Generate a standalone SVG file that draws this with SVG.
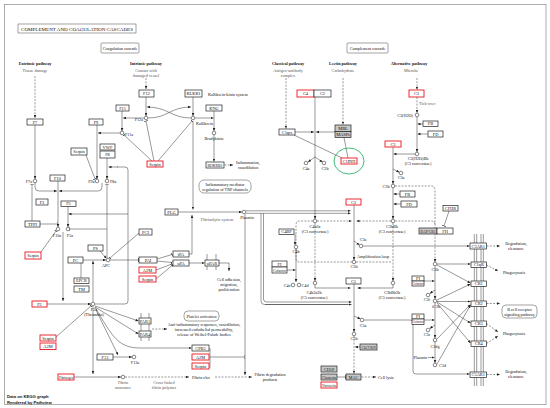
<svg xmlns="http://www.w3.org/2000/svg" width="550" height="408" viewBox="0 0 550 408">
<style>
text{font-family:"Liberation Serif",serif;font-size:4.2px;fill:#111;text-anchor:middle}
.s{font-family:"Liberation Sans",sans-serif;font-weight:bold;text-anchor:start}
.b{font-weight:bold}
.st{text-anchor:start}
.en{text-anchor:end}
.gr{fill:#555}
.n rect{fill:#fff;stroke:#222;stroke-width:0.7}
.n text{font-size:4.4px}
.r rect{stroke:#e8161d;stroke-width:0.9}
.g rect{fill:#c8c8c8}
.m circle{fill:#fff;stroke:#222;stroke-width:0.55}
.c{fill:none;stroke:#333;stroke-width:0.5}
.d{stroke-dasharray:2 1.3}
.ar{marker-end:url(#a)}
.ib{marker-end:url(#b)}
.lab rect{fill:#fff;stroke:#666;stroke-width:0.6}
.mem{stroke:#333;stroke-width:0.5}
</style>
<defs>
<marker id="a" viewBox="0 0 6 6" refX="6" refY="3" markerWidth="3" markerHeight="3" markerUnits="userSpaceOnUse" orient="auto"><path d="M0,0.4L6,3L0,5.6z" fill="#222"/></marker>
<marker id="b" viewBox="0 0 2 8" refX="1" refY="4" markerWidth="1" markerHeight="4" markerUnits="userSpaceOnUse" orient="auto"><path d="M1,0V8" stroke="#222" stroke-width="1.4"/></marker>
</defs>
<rect x="0" y="0" width="550" height="408" fill="#fff"/>
<rect x="4.5" y="4.5" width="541.5" height="400" fill="#fff" stroke="#999" stroke-width="0.8"/>

<g id="title" class="lab"><rect x="18" y="24" width="118" height="9"/><text x="77" y="30.5" font-size="5" textLength="112" lengthAdjust="spacingAndGlyphs">COMPLEMENT AND COAGULATION CASCADES</text></g>
<g id="coag-label" class="lab"><rect x="101" y="43" width="38" height="10" rx="1"/><text x="120" y="49.5">Coagulation cascade</text></g>
<g id="comp-label" class="lab"><rect x="347" y="43" width="41" height="10" rx="1"/><text x="367.5" y="49.5">Complement cascade</text></g>

<g id="pathway-labels">
<text x="35" y="65" class="b">Extrinsic pathway</text><text x="35" y="71.5" class="gr">Tissue damage</text>
<text x="146" y="65" class="b">Intrinsic pathway</text><text x="146" y="71.5" class="gr">Contact with</text><text x="146" y="76.5" class="gr">damaged vessel</text>
<text x="288" y="65" class="b">Classical pathway</text><text x="288" y="71.5" class="gr">Antigen-antibody</text><text x="288" y="76.5" class="gr">complex</text>
<text x="343" y="65" class="b">Lectin pathway</text><text x="343" y="71.5" class="gr">Carbohydrate</text>
<text x="409" y="65" class="b">Alternative pathway</text><text x="411" y="71.5" class="gr">Microbe</text>
</g>

<g id="connectors">
<path class="c d ar" d="M35,76V118"/>
<path class="c ar" d="M35,125V179"/>
<path class="c d ar" d="M146,78V89"/>
<path class="c ar" d="M146,97V116"/>
<path class="c ar" d="M193,97V116"/>
<path class="c ar" d="M148,118C168,118 170,107 191,107"/>
<path class="c ar" d="M191,118C171,118 168,107 147,107"/>
<path class="c ar" d="M144,118H123"/>
<path class="c ar" d="M122,111V131"/>
<path class="c ar" d="M120,133H98"/>
<path class="c ar" d="M97,125V179"/>
<path class="c ar" d="M107,158V179"/>
<path class="c ib" d="M86,155L95,179"/>
<path class="c ib" d="M152,161L124,135"/>
<path class="c ib" d="M154,161L146,121"/>
<path class="c ib" d="M158,161L192,121"/>
<path class="c ar" d="M35,183V187Q35,191 39,191H57"/>
<path class="c ar" d="M102,183V187Q102,191 98,191H59"/>
<path class="c ar" d="M58,181V227"/>
<path class="c ar" d="M68,206V227"/>
<path class="c" d="M95,304H125Q128,304 128,301V170Q128,167 125,167H117"/>
<path class="c ar" d="M118,167H108.5"/>
<path class="c ar" d="M128,214H68.5"/>
<path class="c ib" d="M32,221V184"/>
<path class="c ib" d="M40,224H57"/>
<path class="c ib" d="M41,252L56,231"/>
<path class="c ar" d="M63,232V301"/>
<path class="c ar" d="M47,304H91"/>
<path class="c ar" d="M83,260H106"/>
<path class="c ar" d="M100,251L106.5,258.5"/>
<path class="c ar" d="M93,302V261"/>
<path class="c ib" d="M107,258V184"/>
<path class="c ib" d="M107,229H69"/>
<path class="c ib" d="M139,233L110,258"/>
<path class="c ib" d="M110,260H138.5"/>
<path class="c" d="M81,263V278"/>
<path class="c ib" d="M56,337L91,306"/>
<path class="c ar" d="M95,306L138.5,321"/>
<path class="c ar" d="M95,307L138.5,334"/>
<path class="c ar" d="M95,307C112,336 118,348 140,348H191.5"/>
<path class="c ar" d="M93,306V374"/>
<path class="c ar" d="M96,310L118,355"/>
<path class="c ar" d="M113,357H132"/>
<path class="c ar" d="M74,377H121"/>
<path class="c d ar" d="M125,377H189"/>
<path class="c d ar" d="M215,377H252"/>
<path class="c ar" d="M245,214V375"/>
<path class="c" d="M210,348V368"/>
<path class="c ib" d="M210,357H244"/>
<path class="c d ar" d="M152,329H167"/>
<path class="c ar" d="M189,263H204.5"/>
<path class="c ar" d="M219,263H229V271"/>
<path class="c ib" d="M157,259L172,254.5"/>
<path class="c ib" d="M157,261L172,262.5"/>
<path class="c ib" d="M156,270L172,264"/>
<path class="c ib" d="M156,279L172,265.5"/>
<path class="c ar" d="M189,254H192V215"/>
<path class="c ar" d="M193,121V209.5"/>
<path class="c ar" d="M178,212H242"/>
<path class="c ar" d="M195,118H213.5"/>
<path class="c ar" d="M214,111V131"/>
<path class="c ar" d="M214,135V161.5"/>
<path class="c d ar" d="M224.5,165H233"/>

<path class="c d ar" d="M286,78V128.5"/>
<path class="c d ar" d="M343,78V124.5"/>
<path class="c ar" d="M315,97V219"/>
<path class="c ar" d="M295,132H314"/>
<path class="c ar" d="M335,132H316"/>
<path class="c ar" d="M315,157L308,162"/>
<path class="c ar" d="M315,157L322.5,162"/>
<path class="c" d="M294,135L342,158"/>
<path class="c" d="M344,137.5L348,158"/>
<path class="c ar" d="M354,205V260"/>
<path class="c ar" d="M246,210.8H350.5"/>
<path class="c ar" d="M246,213.3H350.5"/>
<path class="c" d="M261,213.3V301Q261,304.5 264.5,304.5H348"/>
<path class="c ar" d="M263.5,213.3V299Q263.5,302 266.5,302H351.5"/>
<path class="c ar" d="M265,304.5H351.5"/>
<path class="c d ar" d="M317,221H351.5"/>
<path class="c d ar" d="M391,221H356.5"/>
<path class="c d" d="M313,221H300Q296,221 296,225V258Q296,262 300,262H352"/>
<path class="c d" d="M356,262H392"/>
<path class="c d ar" d="M315,223V281"/>
<path class="c d ar" d="M393,223V281"/>
<path class="c d ar" d="M395,186H431Q435,186 435,190V262"/>
<path class="c d" d="M395,221H431Q435,221 435,225"/>
<path class="c d ar" d="M417,78V89.5"/>
<path class="c d ar" d="M417,97V113"/>
<path class="c ar" d="M417,117V152"/>
<path class="c ar" d="M423,124H417.5"/>
<path class="c ar" d="M428,134H417.5"/>
<path class="c ar" d="M415,154H393.5"/>
<path class="c ar" d="M393,147V184"/>
<path class="c ar" d="M393,169L399.3,172.3"/>
<path class="c ar" d="M393,188V219"/>
<path class="c ar" d="M400,194H393.5"/>
<path class="c ar" d="M401,204H393.5"/>
<path class="c ib" d="M449,211L444,226"/>
<path class="c ar" d="M295,234V245"/>
<path class="c ar" d="M296,249V282"/>
<path class="c ar" d="M287,270H295.5"/>
<path class="c ar" d="M315,285V288H350.5"/>
<path class="c ar" d="M393,285V288H357.5"/>
<path class="c ar" d="M354,284V332"/>
<path class="c ar" d="M354,316L360.5,319"/>
<path class="c ar" d="M364,320H410Q413,320 413,323V371Q413,374 416,374H469.5"/>
<path class="c d ar" d="M354,336V373.5"/>
<path class="c ar" d="M360,347H355"/>
<path class="c ib" d="M337,377H345.5"/>
<path class="c d ar" d="M361.5,377H376"/>
<path class="c ar" d="M354,241L359.5,245"/>
<path class="c ar" d="M363,246H469.5"/>
<path class="c d ar" d="M486.5,246H500"/>
<path class="c d ar" d="M486.5,265L498,271"/>
<path class="c d ar" d="M486.5,303.5H500"/>
<path class="c d ar" d="M486.5,323.5L498,332"/>
<path class="c d ar" d="M486.5,343.5L498,336"/>
<path class="c d ar" d="M486.5,374.5H500"/>
<path class="c ar" d="M437,264H470.5"/>
<path class="c ar" d="M437,265L470.5,283"/>
<path class="c ar" d="M435,266V299"/>
<path class="c ar" d="M424,281H434.5"/>
<path class="c ar" d="M435,290L429.8,293.5"/>
<path class="c ar" d="M437,300L470.5,284"/>
<path class="c ar" d="M437,301.5H470.5"/>
<path class="c ar" d="M437,302L470.5,323"/>
<path class="c ar" d="M437,303L470.5,343"/>
<path class="c ar" d="M435,303V338"/>
<path class="c ar" d="M424,320H434.5"/>
<path class="c ar" d="M435,325L429.8,328.5"/>
<path class="c ar" d="M435,342V363"/>
<path class="c ar" d="M428,357.5H434.5"/>
<path class="c ar" d="M437,339L470.5,304.5"/>
<path class="c ar" d="M437,364L470.5,305"/>
</g>

<g id="membranes">
<path class="mem" d="M474.3,234V386M476.7,234V386M481,234V386M483.3,234V386"/>
<path class="mem" d="M141,313V341M149,313V341"/>
<path class="mem" d="M207,254V270M216,254V270"/>
</g>

<g id="F7" class="n"><rect x="27" y="119" width="16" height="6"/><text x="35" y="123.5">F7</text></g>
<g id="F9" class="n"><rect x="89" y="119" width="14" height="6"/><text x="96" y="123.5">F9</text></g>
<g id="F11" class="n"><rect x="116" y="105" width="13" height="6"/><text x="122.5" y="109.5">F11</text></g>
<g id="F12" class="n"><rect x="139" y="90" width="15" height="7"/><text x="146.5" y="95">F12</text></g>
<g id="KLKB1" class="n"><rect x="185" y="90" width="17" height="7"/><text x="193.5" y="95">KLKB1</text></g>
<g id="KNG" class="n"><rect x="206" y="105" width="16" height="6"/><text x="214" y="109.5">KNG</text></g>
<g id="BDKRB2" class="n"><rect x="206" y="162" width="18" height="6"/><text x="215" y="166.5" textLength="15" lengthAdjust="spacingAndGlyphs">BDKRB2</text></g>
<g id="Serpin1" class="n"><rect x="71" y="148" width="16" height="7"/><text x="79" y="153">Serpin</text></g>
<g id="Serpin2" class="n r"><rect x="147" y="161" width="16" height="6"/><text x="155" y="165.5">Serpin</text></g>
<g id="VWF" class="n"><rect x="100" y="144" width="15" height="6"/><text x="107.5" y="148.5">VWF</text></g>
<g id="F8" class="n"><rect x="100" y="151" width="15" height="7"/><text x="107.5" y="156">F8</text></g>
<g id="F10" class="n"><rect x="50" y="175" width="15" height="6"/><text x="57.5" y="179.5">F10</text></g>
<g id="F3" class="n"><rect x="36" y="199" width="12" height="6"/><text x="42" y="203.5">F3</text></g>
<g id="F5" class="n"><rect x="61" y="201" width="15" height="5.5"/><text x="68.5" y="205.3">F5</text></g>
<g id="TFPI" class="n"><rect x="25" y="221" width="15" height="6"/><text x="32.5" y="225.5">TFPI</text></g>
<g id="Serpin3" class="n r"><rect x="25" y="252" width="16" height="7"/><text x="33" y="257">Serpin</text></g>
<g id="PS" class="n"><rect x="88" y="245" width="15" height="6"/><text x="95.5" y="249.5">PS</text></g>
<g id="PC" class="n"><rect x="68" y="257" width="15" height="6"/><text x="75.5" y="261.5">PC</text></g>
<g id="PCI" class="n"><rect x="139" y="229" width="13" height="6"/><text x="145.5" y="233.5">PCI</text></g>
<g id="PLG" class="n"><rect x="165" y="209" width="13" height="6"/><text x="171.5" y="213.5">PLG</text></g>
<g id="PAI" class="n"><rect x="139" y="257" width="18" height="6"/><text x="148" y="261.5">PAI</text></g>
<g id="tPA" class="n"><rect x="173" y="251" width="16" height="6"/><text x="181" y="255.5">tPA</text></g>
<g id="uPA" class="n"><rect x="173" y="260" width="16" height="6"/><text x="181" y="264.5">uPA</text></g>
<g id="A2M1" class="n r"><rect x="139" y="267" width="17" height="6"/><text x="147.5" y="271.5">A2M</text></g>
<g id="Serpin4" class="n r"><rect x="139" y="276" width="17" height="6"/><text x="147.5" y="280.5">Serpin</text></g>
<g id="uPAR" class="n"><rect x="205" y="260" width="14" height="6"/><text x="212" y="264.5">uPAR</text></g>
<g id="EPCR" class="n"><rect x="74" y="278" width="15" height="5.5"/><text x="81.5" y="282.3">EPCR</text></g>
<g id="TM" class="n"><rect x="74" y="286" width="15" height="6"/><text x="81.5" y="290.5">TM</text></g>
<g id="F2" class="n r"><rect x="32" y="301" width="15" height="6"/><text x="39.5" y="305.5">F2</text></g>
<g id="Serpin5" class="n r"><rect x="40" y="335" width="16" height="6"/><text x="48" y="339.5">Serpin</text></g>
<g id="A2M2" class="n r"><rect x="40" y="343" width="16" height="6.5"/><text x="48" y="347.7">A2M</text></g>
<g id="F13" class="n"><rect x="97" y="354" width="16" height="6"/><text x="105" y="358.5">F13</text></g>
<g id="Fibrinogen" class="n r"><rect x="58" y="374" width="16" height="6"/><text x="66" y="378.5" textLength="14" lengthAdjust="spacingAndGlyphs">Fibrinogen</text></g>
<g id="PAR1" class="n"><rect x="139" y="318" width="12" height="6"/><text x="145" y="322.5">PAR1</text></g>
<g id="PAR4" class="n"><rect x="139" y="331" width="12" height="6"/><text x="145" y="335.5">PAR4</text></g>
<g id="CPB2" class="n"><rect x="192" y="345" width="17" height="6"/><text x="200.5" y="349.5">CPB2</text></g>
<g id="A2M3" class="n r"><rect x="192" y="354" width="17" height="6"/><text x="200.5" y="358.5">A2M</text></g>
<g id="Serpin6" class="n r"><rect x="192" y="363" width="17" height="6"/><text x="200.5" y="367.5">Serpin</text></g>

<g id="C4" class="n r"><rect x="297" y="90" width="17" height="7"/><text x="305.5" y="95">C4</text></g>
<g id="C2" class="n"><rect x="314" y="90" width="17" height="7"/><text x="322.5" y="95">C2</text></g>
<g id="C1qrs" class="n"><rect x="279" y="129" width="16" height="6"/><text x="287" y="133.5">C1qrs</text></g>
<g id="MBL" class="n g"><rect x="335" y="125" width="16" height="6.5"/><text x="343" y="129.7">MBL</text></g>
<g id="MASPs" class="n g"><rect x="335" y="131.5" width="16" height="6"/><text x="343" y="136">MASPs</text></g>
<g id="C1INH" class="n r"><rect x="341" y="158" width="16" height="6"/><text x="349" y="162.5">C1INH</text></g>
<ellipse id="highlight" cx="349" cy="161" rx="15" ry="13" fill="none" stroke="#2fb36a" stroke-width="0.9"/>
<g id="C4BP" class="n"><rect x="279" y="229" width="15" height="5.5"/><text x="286.5" y="233.2">C4BP</text></g>
<g id="FI1" class="n"><rect x="272" y="261" width="15" height="6"/><text x="279.5" y="265.5">FI</text></g>
<g id="Cof1" class="n"><rect x="272" y="267" width="15" height="6"/><text x="279.5" y="271.5" textLength="13" lengthAdjust="spacingAndGlyphs">Cofactor</text></g>
<g id="C3a-node" class="n r"><rect x="346" y="199" width="15" height="6"/><text x="353.5" y="203.5">C3</text></g>
<g id="C3b-node" class="n r"><rect x="385" y="141" width="16" height="6"/><text x="393" y="145.5">C3</text></g>
<g id="C3c-node" class="n r"><rect x="409" y="90" width="15" height="7"/><text x="416.5" y="95">C3</text></g>
<g id="FB1" class="n"><rect x="423" y="121" width="15" height="5.5"/><text x="430.5" y="125.3">FB</text></g>
<g id="FD1" class="n"><rect x="428" y="131" width="15" height="6"/><text x="435.5" y="135.5">FD</text></g>
<g id="FB2" class="n"><rect x="400" y="191" width="15" height="6"/><text x="407.5" y="195.5">FB</text></g>
<g id="FD2" class="n"><rect x="401" y="201" width="16" height="6"/><text x="409" y="205.5">FD</text></g>
<g id="CFHR" class="n"><rect x="443" y="205.5" width="15" height="5.5"/><text x="450.5" y="209.7">CFHR</text></g>
<g id="DAFCR1" class="n g"><rect x="419" y="228" width="18" height="6"/><text x="428" y="232.5" textLength="15" lengthAdjust="spacingAndGlyphs">DAF/CR1</text></g>
<g id="FH" class="n"><rect x="437" y="228" width="16" height="6"/><text x="445" y="232.5">FH</text></g>
<g id="C5" class="n"><rect x="346" y="278" width="15" height="6"/><text x="353.5" y="282.5">C5</text></g>
<g id="C6789" class="n g"><rect x="360" y="344" width="17" height="6"/><text x="368.5" y="348.5" textLength="14" lengthAdjust="spacingAndGlyphs">C6/7/8/9</text></g>
<g id="CD59" class="n g"><rect x="321" y="366" width="16" height="6"/><text x="329" y="370.5">CD59</text></g>
<g id="Clusterin" class="n g"><rect x="321" y="374" width="16" height="6"/><text x="329" y="378.5" textLength="14" lengthAdjust="spacingAndGlyphs">Clusterin</text></g>
<g id="Vitronectin" class="n r"><rect x="321" y="382" width="16" height="6"/><text x="329" y="386.5" textLength="14" lengthAdjust="spacingAndGlyphs">Vitronectin</text></g>
<g id="MAC" class="n g"><rect x="346" y="374" width="15" height="6"/><text x="353.5" y="378.5">MAC</text></g>
<g id="FI2" class="n"><rect x="412" y="276" width="12" height="5"/><text x="418" y="280">FI</text></g>
<g id="Cof2" class="n"><rect x="412" y="281" width="12" height="5"/><text x="418" y="285" textLength="11" lengthAdjust="spacingAndGlyphs">Cofactor</text></g>
<g id="FI3" class="n"><rect x="412" y="314" width="12" height="5"/><text x="418" y="318">FI</text></g>
<g id="Cof3" class="n"><rect x="412" y="319" width="12" height="5.5"/><text x="418" y="323.2" textLength="11" lengthAdjust="spacingAndGlyphs">Cofactor</text></g>
<g id="C3AR1" class="n"><rect x="470" y="243" width="16.5" height="6"/><text x="478.3" y="247.5">C3AR1</text></g>
<g id="C1qR" class="n"><rect x="471" y="262" width="15.5" height="5.5"/><text x="478.8" y="266.2">C1qR</text></g>
<g id="CR1" class="n"><rect x="471" y="281" width="15.5" height="5.5"/><text x="478.8" y="285.2">CR1</text></g>
<g id="CR2" class="n"><rect x="471" y="301" width="15.5" height="5.5"/><text x="478.8" y="305.2">CR2</text></g>
<g id="CR3" class="n"><rect x="471" y="321" width="15.5" height="5.5"/><text x="478.8" y="325.2">CR3</text></g>
<g id="CR4" class="n"><rect x="471" y="341" width="15.5" height="5.5"/><text x="478.8" y="345.2">CR4</text></g>
<g id="C5AR1" class="n"><rect x="470" y="372" width="16.5" height="5.5"/><text x="478.3" y="376.2">C5AR1</text></g>

<g id="compounds" class="m">
<g id="F7a"><circle cx="35" cy="181" r="1.8"/><text x="32" y="182.5" class="en">F7a</text></g>
<g id="F9a"><circle cx="97" cy="181" r="1.8"/><text x="94.5" y="182.5" class="en">F9a</text></g>
<g id="F8a"><circle cx="107" cy="181" r="1.8"/><text x="110" y="182.5" class="st">F8a</text></g>
<g id="F11a"><circle cx="122" cy="133" r="1.8"/><text x="125" y="136" class="st">F11a</text></g>
<g id="F12a"><circle cx="146" cy="118" r="1.8"/><text x="143" y="121" class="en">F12a</text></g>
<g id="Kallikrein"><circle cx="193" cy="118" r="1.8"/><text x="196" y="125" class="st">Kallikrein</text></g>
<g id="Bradykinin"><circle cx="214" cy="133" r="1.8"/><text x="214" y="140">Bradykinin</text></g>
<g id="F10a"><circle cx="58" cy="229" r="1.8"/><text x="57" y="237">F10a</text></g>
<g id="F5a"><circle cx="68" cy="229" r="1.8"/><text x="70" y="237">F5a</text></g>
<g id="APC"><circle cx="108" cy="260" r="1.8"/><text x="106" y="267">APC</text></g>
<g id="Thrombin"><circle cx="93" cy="304" r="1.8"/><text x="94" y="311">F2a</text><text x="94" y="316">(Thrombin)</text></g>
<g id="F13a"><circle cx="134" cy="357" r="1.8"/><text x="135" y="364">F13a</text></g>
<g id="FibrinMono"><circle cx="123" cy="377" r="1.8"/><text x="123" y="384" class="gr">Fibrin</text><text x="123" y="389" class="gr">monomer</text></g>
<g id="Plasmin"><circle cx="244" cy="212" r="1.8"/><text x="247" y="219">Plasmin</text></g>
<g id="C4a"><circle cx="306" cy="163" r="1.8"/><text x="306" y="170">C4a</text></g>
<g id="C2b"><circle cx="324" cy="163" r="1.8"/><text x="325" y="170">C2b</text></g>
<g id="C4b2a"><circle cx="315" cy="221" r="1.8"/><text x="315" y="228">C4b2a</text><text x="315" y="233">(C3 convertase)</text></g>
<g id="C3bA"><circle cx="354" cy="262" r="1.8"/><text x="354" y="268">C3b</text></g>
<g id="C3aA"><circle cx="361" cy="246" r="1.8"/><text x="363" y="241">C3a</text></g>
<g id="C4b"><circle cx="296" cy="247" r="1.8"/><text x="296" y="253">C4b</text></g>
<g id="C4c"><circle cx="293" cy="285" r="1.8"/><text x="290.5" y="287" class="en">C4c</text></g>
<g id="C4d"><circle cx="299" cy="285" r="1.8"/><text x="301.5" y="287" class="st">C4d</text></g>
<g id="C4b2a3b"><circle cx="315" cy="283" r="1.8"/><text x="314" y="294">C4b2a3b</text><text x="314" y="299">(C5 convertase)</text></g>
<g id="C3bBb3b"><circle cx="393" cy="283" r="1.8"/><text x="392" y="294">C3bBb3b</text><text x="392" y="299">(C5 convertase)</text></g>
<g id="C5a"><circle cx="362" cy="320" r="1.8"/><text x="363" y="327">C5a</text></g>
<g id="C5b"><circle cx="354" cy="334" r="1.8"/><text x="354" y="340">C5b</text></g>
<g id="C3H2O"><circle cx="417" cy="115" r="1.8"/><text x="413" y="117" class="en">C3(H2O)</text></g>
<g id="C3H2OBb"><circle cx="417" cy="154" r="1.8"/><text x="418" y="160">C3(H2O)Bb</text><text x="418" y="165">(C3 convertase)</text></g>
<g id="C3aB"><circle cx="401" cy="173" r="1.8"/><text x="401" y="179">C3a</text></g>
<g id="C3bB"><circle cx="393" cy="186" r="1.8"/><text x="389.5" y="188" class="en">C3b</text></g>
<g id="C3bBb"><circle cx="393" cy="221" r="1.8"/><text x="392" y="228">C3bBb</text><text x="392" y="233">(C3 convertase)</text></g>
<g id="C3bC"><circle cx="435" cy="264" r="1.8"/><text x="435" y="270.5">C3b</text></g>
<g id="C3f"><circle cx="428" cy="295" r="1.8"/><text x="430" y="301" class="en">C3f</text></g>
<g id="iC3b"><circle cx="435" cy="301" r="1.8"/><text x="436" y="308">iC3b</text></g>
<g id="C3c"><circle cx="428" cy="330" r="1.8"/><text x="427" y="336">C3c</text></g>
<g id="C3dg"><circle cx="435" cy="340" r="1.8"/><text x="435" y="348">C3dg</text></g>
<g id="C3d"><circle cx="435" cy="365" r="1.8"/><text x="439" y="367" class="st">C3d</text></g>
</g>

<g id="annotations">
<text x="208" y="95.5" class="st">Kallikrein-kinin system</text>
<text x="248" y="164">Inflammation,</text><text x="248" y="169">vasodilation</text>
<g class="lab"><rect x="199" y="180" width="52" height="13" rx="5"/></g>
<text x="225" y="185.5">Inflammatory mediator</text><text x="225" y="190.5">regulation of TRP channels</text>
<text x="217" y="221" class="gr">Fibrinolytic system</text>
<text x="229" y="281">Cell adhesion,</text><text x="229" y="286">migration,</text><text x="229" y="291">proliferation</text>
<g class="lab"><rect x="184" y="311" width="35" height="10" rx="4"/></g>
<text x="201.5" y="317.5">Platelet activation</text>
<text x="204" y="325.5">Anti-inflammatory responses, vasodilation,</text>
<text x="204" y="330.5">increased endothelial permeability,</text>
<text x="204" y="335.5">release of Weibel-Palade bodies</text>
<text x="192" y="378.5" class="st">Fibrin clot</text>
<text x="164" y="384" class="gr">Cross-linked</text><text x="164" y="389" class="gr">fibrin polymer</text>
<text x="270" y="376">Fibrin degradation</text><text x="270" y="381">products</text>
<text x="419" y="104.5" class="st gr">Tick-over</text>
<text x="373" y="258">Amplification loop</text>
<text x="427" y="359" class="en">Plasmin</text>
<text x="378" y="378.5" class="st">Cell lysis</text>
<text x="516" y="245">Degradation,</text><text x="516" y="250">clearance</text>
<text x="514" y="274">Phagocytosis</text>
<g class="lab"><rect x="502" y="305" width="35" height="13" rx="4"/></g>
<text x="519.5" y="310.5">B cell receptor</text><text x="519.5" y="315.5">signaling pathway</text>
<text x="514" y="335">Phagocytosis</text>
<text x="516" y="373">Degradation,</text><text x="516" y="378">clearance</text>
<text x="7" y="398" class="s">Data on KEGG graph</text>
<text x="7" y="404" class="s">Rendered by Pathview</text>
</g>
</svg>
